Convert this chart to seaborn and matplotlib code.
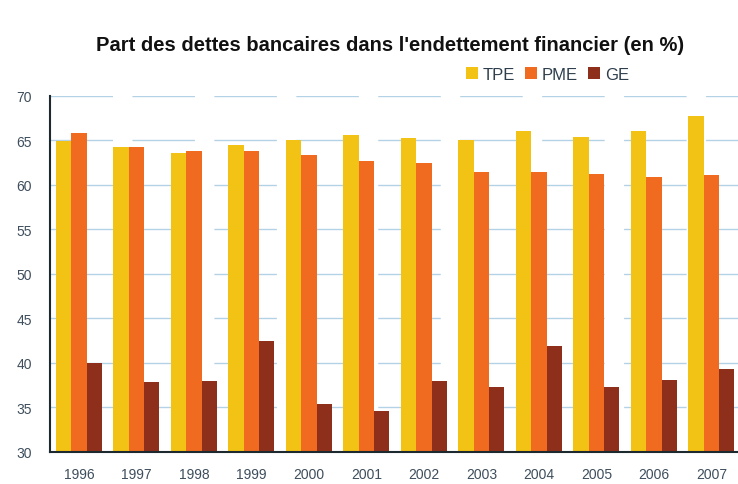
import pandas as pd
import matplotlib
matplotlib.use('Agg')
import matplotlib.pyplot as plt
import seaborn as sns

# Données
annees = ['1996', '1997', '1998', '1999', '2000', '2001', '2002', '2003', '2004', '2005', '2006', '2007']
tpe = [64.9, 64.3, 63.6, 64.5, 65.1, 65.6, 65.3, 65.1, 66.1, 65.4, 66.1, 67.8]
pme = [65.8, 64.3, 63.8, 63.8, 63.4, 62.7, 62.5, 61.5, 61.5, 61.2, 60.9, 61.1]
ge = [40.0, 37.9, 38.0, 42.5, 35.4, 34.6, 38.0, 37.3, 41.9, 37.3, 38.1, 39.3]
categories = ['TPE', 'PME', 'GE']
couleurs = ['#F2C314', '#F06A20', '#8E2F1B']

df = pd.DataFrame({'annee': annees, 'TPE': tpe, 'PME': pme, 'GE': ge})
df_long = df.melt(id_vars='annee', var_name='categorie', value_name='part')

sns.set_style('white')
plt.rcParams['font.family'] = ['Liberation Sans', 'DejaVu Sans']

fig = plt.figure(figsize=(7.38, 4.85), dpi=100)
ax = fig.add_axes([0.068, 0.066, 0.935, 0.734])

sns.barplot(data=df_long, x='annee', y='part', hue='categorie', hue_order=categories,
            palette=couleurs, width=0.8, gap=0, saturation=1, ax=ax, linewidth=0)

ax.set_ylim(30, 70)
ax.set_xlim(-0.5, len(annees) - 0.5)
ax.set_yticks(range(30, 71, 5))
ax.set_xlabel('')
ax.set_ylabel('')

# grille
ax.set_axisbelow(True)
ax.yaxis.grid(True, color='#b4d2e6', linewidth=1, linestyle=(0, (45, 14)))
ax.xaxis.grid(False)

for s in ['top', 'right']:
    ax.spines[s].set_visible(False)
ax.spines['left'].set_color('#1c2a30')
ax.spines['left'].set_linewidth(1.5)
ax.spines['bottom'].set_color('#1c2a30')
ax.spines['bottom'].set_linewidth(1.5)

ax.set_xticks([i - 0.5 for i in range(len(annees) + 1)], minor=True)
ax.tick_params(axis='x', which='major', length=0, pad=11, labelsize=10, labelcolor='#3e4e5c')
ax.tick_params(axis='x', which='minor', length=4, width=1.2, color='#1c2a30', direction='out')
ax.tick_params(axis='y', length=4, width=1.2, color='#1c2a30', direction='out', labelsize=10,
               labelcolor='#3e4e5c', pad=9)

fig.suptitle("Part des dettes bancaires dans l'endettement financier (en %)",
             x=0.528, y=0.907, va='center', fontsize=14.5, fontweight='bold', color='#111111')

ax.legend(loc='center', bbox_to_anchor=(0.742, 0.845), bbox_transform=fig.transFigure,
          ncol=3, frameon=False, fontsize=12, handlelength=0.7, handleheight=0.7,
          columnspacing=0.6, handletextpad=0.3, labelcolor='#2e3e4c')

fig.savefig('out.png', dpi=100)
